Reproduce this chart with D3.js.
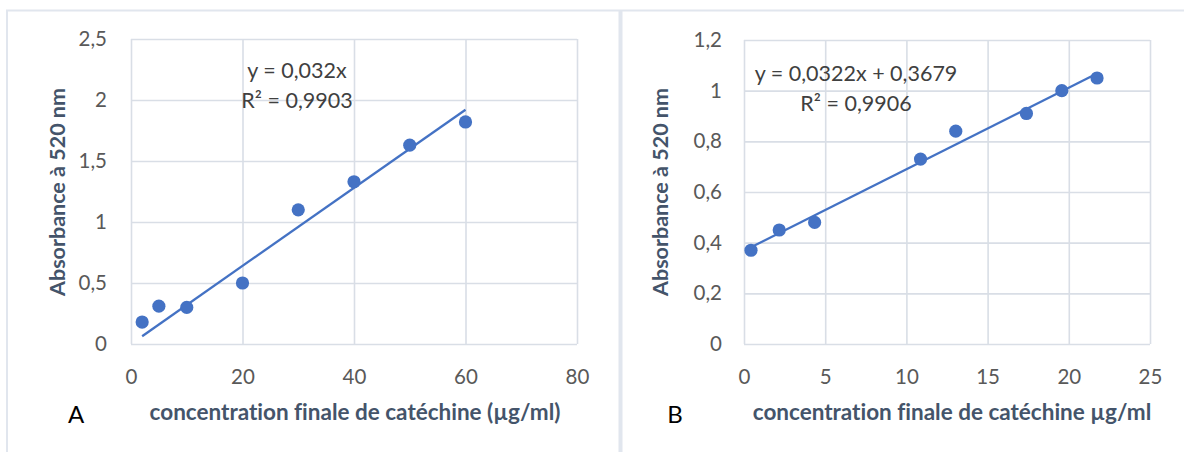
<!DOCTYPE html>
<html>
<head>
<meta charset="utf-8">
<script src="https://cdn.jsdelivr.net/npm/d3@7"></script>
<style>
  body { margin: 0; background: #fff; }
  svg { display: block; font-family: Lato, "Open Sans", sans-serif; font-variant-ligatures: none; }
</style>
</head>
<body>
<svg id="chart" width="1184" height="452"></svg>
<script>
// panel A data
const concA = [2, 5, 10, 20, 30, 40, 50, 60];
const absA = [0.18, 0.31, 0.30, 0.50, 1.10, 1.33, 1.63, 1.82];
const xTicksA = [0, 20, 40, 60, 80];
const yTicksA = [0, 0.5, 1, 1.5, 2, 2.5];
const fitA = { slope: 0.032, intercept: 0 };
const eqA = ['y = 0,032x', 'R² = 0,9903'];

// panel B data
const concB = [0.43, 2.17, 4.35, 10.87, 13.04, 17.39, 19.57, 21.74];
const absB = [0.37, 0.45, 0.48, 0.73, 0.84, 0.91, 1.00, 1.05];
const xTicksB = [0, 5, 10, 15, 20, 25];
const yTicksB = [0, 0.2, 0.4, 0.6, 0.8, 1, 1.2];
const fitB = { slope: 0.0322, intercept: 0.3679 };
const eqB = ['y = 0,0322x + 0,3679', 'R² = 0,9906'];

const blue = '#4472c4';
const gridColor = '#d9dee6';
const fr = d3.formatLocale({ decimal: ',', thousands: ' ', grouping: [3], currency: ['', ''] });
const fmt = fr.format('~g');

const svg = d3.select('#chart');

// outer frame lines
svg.append('line').attr('x1', 6).attr('x2', 1184).attr('y1', 10.5).attr('y2', 10.5)
  .attr('stroke', '#e1e6ee').attr('stroke-width', 2);
svg.append('line').attr('x1', 7).attr('x2', 7).attr('y1', 10).attr('y2', 452)
  .attr('stroke', '#e1e6ee').attr('stroke-width', 2);
svg.append('line').attr('x1', 620.5).attr('x2', 620.5).attr('y1', 10).attr('y2', 452)
  .attr('stroke', '#e1e6ee').attr('stroke-width', 4);

function drawPanel(p) {
  const x = d3.scaleLinear().domain(p.xDomain).range([p.left, p.right]);
  const y = d3.scaleLinear().domain(p.yDomain).range([p.bottom, p.top]);
  const g = svg.append('g');

  // gridlines + y labels
  const yAxis = g.append('g')
    .attr('transform', `translate(${p.left},0)`)
    .call(d3.axisLeft(y).tickValues(p.yTicks).tickFormat(fmt)
      .tickSize(-(p.right - p.left)).tickPadding(p.yPad));
  // gridlines + x labels
  const xAxis = g.append('g')
    .attr('transform', `translate(0,${p.bottom})`)
    .call(d3.axisBottom(x).tickValues(p.xTicks).tickFormat(fmt)
      .tickSize(-(p.bottom - p.top)).tickPadding(25));

  [xAxis, yAxis].forEach(a => {
    a.select('.domain').remove();
    a.selectAll('line').attr('stroke', gridColor).attr('stroke-width', 1.6);
    a.selectAll('text').attr('fill', '#595959').attr('font-size', 20.5)
      .attr('font-family', 'Lato, sans-serif');
  });

  // trendline across the data range
  const xs = d3.extent(p.xs);
  g.append('line')
    .attr('x1', x(xs[0])).attr('y1', y(p.fit.slope * xs[0] + p.fit.intercept))
    .attr('x2', x(xs[1])).attr('y2', y(p.fit.slope * xs[1] + p.fit.intercept))
    .attr('stroke', blue).attr('stroke-width', 2.3);

  // points
  g.selectAll('circle.pt')
    .data(p.xs.map((v, i) => [v, p.ys[i]]))
    .join('circle')
    .attr('class', 'pt')
    .attr('cx', d => x(d[0]))
    .attr('cy', d => y(d[1]))
    .attr('r', 6.6)
    .attr('fill', blue);

  // equation
  p.eq.forEach((t, i) => {
    g.append('text')
      .attr('x', p.eqX).attr('y', p.eqY + i * 30)
      .attr('text-anchor', 'middle').attr('dy', '0.35em')
      .attr('font-size', 21.5).attr('fill', '#404040')
      .text(t);
  });

  // axis titles
  g.append('text')
    .attr('x', p.xTitleX).attr('y', 412).attr('dy', '0.35em')
    .attr('text-anchor', 'middle').attr('font-weight', 'bold')
    .attr('font-size', 22.5).attr('fill', '#44546a')
    .text(p.xTitle);
  g.append('text')
    .attr('transform', `translate(${p.yTitleX},192) rotate(-90)`)
    .attr('dy', '0.35em')
    .attr('text-anchor', 'middle').attr('font-weight', 'bold')
    .attr('font-size', 21.5).attr('fill', '#44546a')
    .text('Absorbance à 520 nm');

  // panel letter
  g.append('text')
    .attr('x', p.letterX).attr('y', 415).attr('dy', '0.35em')
    .attr('text-anchor', 'middle').attr('font-size', 24).attr('fill', '#000')
    .text(p.letter);
}

drawPanel({
  xs: concA, ys: absA, xTicks: xTicksA, yTicks: yTicksA, fit: fitA, eq: eqA,
  xDomain: [0, 80], yDomain: [0, 2.5],
  left: 131, right: 577, top: 39, bottom: 344, yPad: 24,
  eqX: 297, eqY: 70,
  xTitle: 'concentration finale de catéchine (µg/ml)', xTitleX: 355, yTitleX: 57,
  letter: 'A', letterX: 76
});

drawPanel({
  xs: concB, ys: absB, xTicks: xTicksB, yTicks: yTicksB, fit: fitB, eq: eqB,
  xDomain: [0, 25], yDomain: [0, 1.2],
  left: 744, right: 1150, top: 40, bottom: 344, yPad: 22,
  eqX: 856, eqY: 73,
  xTitle: 'concentration finale de catéchine µg/ml', xTitleX: 952, yTitleX: 660,
  letter: 'B', letterX: 675
});
</script>
</body>
</html>
